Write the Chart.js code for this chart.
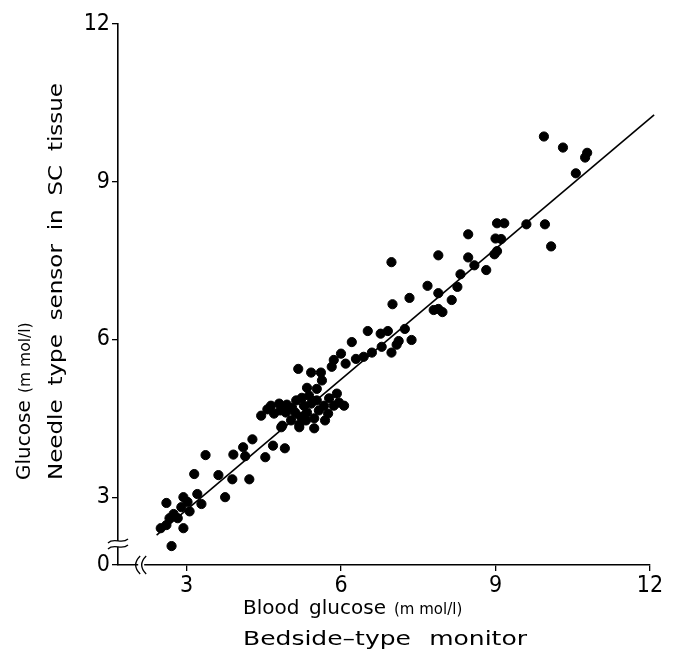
<!DOCTYPE html>
<html>
<head>
<meta charset="utf-8">
<script src="https://cdn.jsdelivr.net/npm/chart.js@4.4.0/dist/chart.umd.min.js"></script>
<style>
html, body { margin: 0; padding: 0; background: #fff; }
#wrap { width: 673px; height: 662px; position: relative; }
</style>
</head>
<body>
<div id="wrap"><canvas id="grafico"></canvas></div>
<script>
// Blood glucose (bedside monitor) vs sensor glucose, mmol/l
const bloodGlucose = [
  2.71, 2.50, 2.61, 2.94, 2.61, 2.75, 2.83, 2.90, 2.94, 3.06, 3.02, 3.21, 3.29, 3.15, 3.37,
  3.62, 3.75, 3.89, 3.91, 4.10, 4.14, 4.28, 4.22, 4.53, 4.68, 4.91, 4.84, 5.19, 2.67,
  4.45, 4.57, 4.70, 4.82, 4.93, 4.64, 4.80, 4.95, 5.05, 5.13, 5.24, 5.11, 5.22, 5.34, 5.28,
  5.42, 5.38, 5.34, 5.42, 5.61, 5.63, 5.53, 5.48, 5.57, 5.67, 5.77, 5.86, 5.96, 6.06, 5.75,
  5.53, 5.19, 4.86, 5.03, 5.92, 5.17, 5.48, 5.69, 5.32,
  6.00, 5.86, 5.82, 6.09, 6.29, 6.44, 6.60, 6.21, 6.52, 6.77, 6.91, 6.98, 6.79, 7.12, 7.08,
  7.37, 7.24, 7.00, 7.33, 6.98, 7.68, 7.89, 7.80, 7.97, 7.89, 8.15, 8.26, 8.32, 8.59, 8.82,
  8.47, 8.98, 9.03, 7.89, 8.47, 9.00, 9.11, 9.03, 9.17, 9.60, 9.96, 10.08, 10.56, 10.74, 10.78,
  10.31, 9.94
];
const sensorGlucose = [
  2.07, 2.41, 2.47, 2.41, 2.89, 2.68, 2.60, 2.81, 3.00, 2.73, 2.91, 3.06, 2.87, 3.44, 3.80,
  3.42, 3.00, 3.34, 3.81, 3.95, 3.78, 4.10, 3.34, 3.76, 3.98, 3.93, 4.33, 4.33, 2.60,
  4.55, 4.67, 4.59, 4.65, 4.61, 4.74, 4.78, 4.76, 4.70, 4.84, 4.89, 4.61, 4.53, 4.61, 4.74,
  4.78, 4.93, 5.08, 5.37, 5.37, 5.22, 5.06, 4.50, 4.65, 4.74, 4.88, 4.74, 4.80, 4.74, 4.59,
  4.84, 4.38, 4.36, 4.46, 4.97, 5.44, 4.31, 4.46, 4.46,
  5.73, 5.61, 5.48, 5.54, 5.63, 5.67, 5.75, 5.95, 6.16, 6.11, 6.16, 5.75, 5.86, 5.97, 5.90,
  5.99, 6.20, 6.67, 6.79, 7.47, 7.02, 6.88, 6.56, 6.52, 6.58, 6.75, 7.00, 7.24, 7.41, 7.32,
  7.56, 7.62, 7.68, 7.60, 8.00, 7.92, 7.91, 8.21, 8.21, 8.19, 8.19, 7.77, 9.16, 9.46, 9.55,
  9.65, 9.86
];
const fitX = [2.42, 12.08];
const fitY = [2.28, 10.27];
const tickValues = [3, 6, 9, 12];
const axisMinX = 1.67;
const axisMinY = 1.71;
const breakX = 2.12;
const breakY = 2.11;

const fontFamily = "'DejaVu Sans', 'Liberation Sans', sans-serif";
const tickFont = "'Liberation Sans Narrow', 'DejaVu Sans Condensed', 'Liberation Sans', sans-serif";

const puntos = bloodGlucose.map((x, i) => ({ x: x, y: sensorGlucose[i] }));
const recta = fitX.map((x, i) => ({ x: x, y: fitY[i] }));

// axis breaks
const cortes = {
  id: 'cortes',
  afterDraw(chart) {
    const ctx = chart.ctx;
    const sx = chart.scales.x, sy = chart.scales.y;
    const ax = sx.left, ay = sy.bottom;
    const by = sy.getPixelForValue(breakY);
    const bx = sx.getPixelForValue(breakX);
    ctx.save();
    ctx.fillStyle = '#fff';
    ctx.fillRect(ax - 3, by - 3, 6, 6);
    ctx.fillRect(bx - 3, ay - 3, 6, 6);
    ctx.strokeStyle = '#000';
    ctx.lineWidth = 1.3;
    [-3, 3].forEach(d => {
      ctx.beginPath();
      ctx.moveTo(ax - 10, by + d + 2);
      ctx.bezierCurveTo(ax - 4, by + d - 4, ax + 4, by + d + 4, ax + 10, by + d - 2);
      ctx.stroke();
      ctx.beginPath();
      ctx.moveTo(bx + d + 2, ay - 9);
      ctx.bezierCurveTo(bx + d - 4, ay - 3, bx + d - 4, ay + 3, bx + d + 2, ay + 9);
      ctx.stroke();
    });
    ctx.restore();
  }
};

// draw a line of text a bit wider, words spread over the given length
function spreadText(ctx, text, x, y, size, length, stretch) {
  ctx.save();
  ctx.font = size + 'px ' + fontFamily;
  ctx.translate(x, y);
  ctx.scale(stretch, 1);
  const words = text.split(' ');
  const w = ctx.measureText(text.replace(/ /g, '')).width;
  const gap = words.length > 1 ? (length / stretch - w) / (words.length - 1) : 0;
  let pos = 0;
  words.forEach(word => {
    ctx.fillText(word, pos, 0);
    pos += ctx.measureText(word).width + gap;
  });
  ctx.restore();
}

// axis titles with the small unit text
const titulos = {
  id: 'titulos',
  afterDraw(chart) {
    const ctx = chart.ctx;
    ctx.save();
    ctx.fillStyle = '#000';
    ctx.textBaseline = 'alphabetic';
    ctx.textAlign = 'left';
    const s = 20;
    spreadText(ctx, 'Blood glucose', 243, 614, s, 143, 1.0);
    ctx.font = '15px ' + fontFamily;
    ctx.fillText('(m mol/l)', 394, 614);
    spreadText(ctx, 'Bedside\u2013type monitor', 243, 645, s, 284, 1.25);

    ctx.rotate(-Math.PI / 2);
    spreadText(ctx, 'Glucose', -480, 30, s, 78, 1.0);
    ctx.font = '15.5px ' + fontFamily;
    ctx.fillText('(m mol/l)', -393, 30);
    spreadText(ctx, 'Needle type sensor in SC tissue', -480, 62, s, 397, 1.15);
    ctx.restore();
  }
};

new Chart(document.getElementById('grafico').getContext('2d'), {
  type: 'scatter',
  data: {
    datasets: [
      {
        label: 'Medidas',
        data: puntos,
        backgroundColor: '#000',
        borderColor: '#000',
        pointRadius: 4.6,
        pointHoverRadius: 4.6,
      },
      {
        type: 'line',
        label: 'Regresion',
        data: recta,
        borderColor: '#000',
        borderWidth: 1.6,
        pointRadius: 0,
        fill: false,
        clip: false,
      },
    ],
  },
  options: {
    responsive: true,
    maintainAspectRatio: false,
    animation: false,
    events: [],
    layout: { padding: { left: 0, right: 23, top: 24, bottom: 0 } },
    plugins: { legend: { display: false }, tooltip: { enabled: false } },
    scales: {
      x: {
        type: 'linear',
        min: axisMinX,
        max: 12,
        afterBuildTicks: (axis) => { axis.ticks = tickValues.map(v => ({ value: v })); },
        afterFit: (axis) => { axis.height = 97; },
        grid: { drawOnChartArea: false, drawTicks: true, tickLength: 6, color: '#000', lineWidth: 1.3 },
        border: { color: '#000', width: 1.6 },
        ticks: { color: '#000', padding: 1, font: { family: tickFont, size: 23 } },
      },
      y: {
        type: 'linear',
        min: axisMinY,
        max: 12,
        afterBuildTicks: (axis) => { axis.ticks = [axisMinY].concat(tickValues).map(v => ({ value: v })); },
        afterFit: (axis) => { axis.width = 118; },
        grid: { drawOnChartArea: false, drawTicks: true, tickLength: 6, color: '#000', lineWidth: 1.3 },
        border: { color: '#000', width: 1.6 },
        ticks: {
          color: '#000',
          padding: 2,
          font: { family: tickFont, size: 23 },
          callback: (v) => (v < 3 ? '0' : v),
        },
      },
    },
  },
  plugins: [cortes, titulos],
});
</script>
</body>
</html>
